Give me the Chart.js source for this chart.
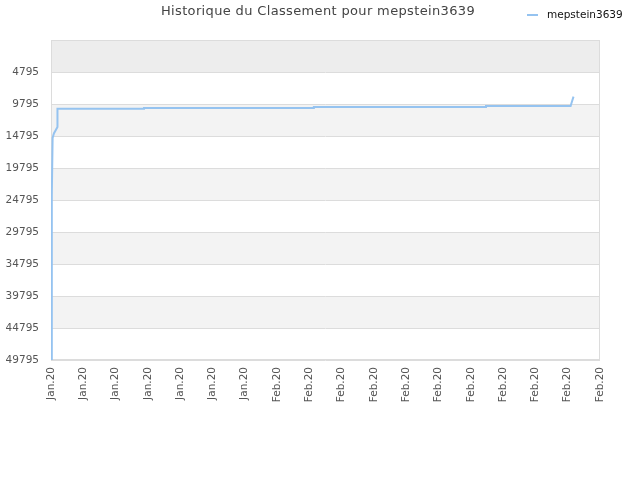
<!DOCTYPE html>
<html>
<head>
<meta charset="utf-8">
<script src="https://cdn.jsdelivr.net/npm/chart.js@4"></script>
<style>
  html, body { margin: 0; padding: 0; background: #fff; }
  #wrap { width: 640px; height: 480px; }
</style>
</head>
<body>
<div id="wrap"><canvas id="rank"></canvas></div>
<script>
// x positions are in tick units (0 = first label), y = rank
const xLabels = ['Jan.20', 'Jan.20', 'Jan.20', 'Jan.20', 'Jan.20', 'Jan.20', 'Jan.20',
  'Feb.20', 'Feb.20', 'Feb.20', 'Feb.20', 'Feb.20', 'Feb.20', 'Feb.20', 'Feb.20', 'Feb.20', 'Feb.20', 'Feb.20']
const yTicks = [4795, 9795, 14795, 19795, 24795, 29795, 34795, 39795, 44795, 49795]
const rankX = [0, 0.02, 0.03, 0.05, 0.09, 0.2, 0.2, 2.88, 2.88, 8.14, 8.14, 13.47, 13.47, 16.09, 16.13, 16.18]
const rankY = [49795, 41200, 24000, 15100, 14400, 13400, 10530, 10530, 10420, 10420, 10260, 10260, 10100, 10100, 9440, 8650]
const playerName = 'mepstein3639'
const titleText = 'Historique du Classement pour ' + playerName
const lineColor = '#95c3f0'

const FONT = '"DejaVu Sans", Verdana, sans-serif'

// alternating bands + frame behind the data, title and legend on top
const decor = {
  id: 'decor',
  beforeDatasetsDraw(chart) {
    const {ctx, chartArea: a, scales: {y}} = chart
    ctx.save()
    const edges = [y.min].concat(yTicks)
    for (let i = 0; i < edges.length - 1; i++) {
      const y0 = y.getPixelForValue(edges[i]), y1 = y.getPixelForValue(edges[i + 1])
      if (i === 0) ctx.fillStyle = '#ededed'
      else if (i % 2 === 0) ctx.fillStyle = '#f3f3f3'
      else continue
      ctx.fillRect(a.left, y0, a.right - a.left, y1 - y0)
    }
    ctx.strokeStyle = '#dcdcdc'
    ctx.lineWidth = 1
    yTicks.forEach(v => {
      const py = Math.round(y.getPixelForValue(v)) + 0.5
      ctx.beginPath(); ctx.moveTo(a.left, py); ctx.lineTo(a.right, py); ctx.stroke()
    })
    ctx.strokeRect(a.left + 0.5, a.top + 0.5, a.right - a.left - 1, a.bottom - a.top - 1)
    ctx.restore()
  },
  afterDraw(chart) {
    const {ctx} = chart
    ctx.save()
    ctx.fillStyle = '#444'
    ctx.font = '13px ' + FONT
    ctx.textAlign = 'center'
    ctx.textBaseline = 'middle'
    if ('letterSpacing' in ctx) ctx.letterSpacing = '0.35px'
    ctx.fillText(titleText, 318, 12)
    if ('letterSpacing' in ctx) ctx.letterSpacing = '0px'
    ctx.fillStyle = lineColor
    ctx.fillRect(527, 14, 11, 2)
    ctx.fillStyle = '#111'
    ctx.font = '10.5px ' + FONT
    ctx.textAlign = 'left'
    ctx.fillText(playerName, 547, 15)
    ctx.restore()
  }
}

new Chart(document.getElementById('rank'), {
  type: 'line',
  data: {
    datasets: [{
      label: playerName,
      data: rankX.map((x, i) => ({x: x, y: rankY[i]})),
      borderColor: lineColor,
      backgroundColor: lineColor,
      borderWidth: 2,
      pointRadius: 0,
      tension: 0,
      fill: false
    }]
  },
  options: {
    responsive: true,
    maintainAspectRatio: false,
    animation: false,
    events: [],
    layout: {padding: {top: 40, right: 40, bottom: 0, left: 0}},
    plugins: {
      legend: {display: false},
      title: {display: false},
      tooltip: {enabled: false}
    },
    scales: {
      x: {
        type: 'linear',
        min: 0,
        max: xLabels.length - 1,
        grid: {display: false, drawTicks: false},
        border: {display: false},
        afterFit: s => { s.height = 120 },
        afterBuildTicks: s => { s.ticks = xLabels.map((_, i) => ({value: i})) },
        ticks: {
          autoSkip: false,
          minRotation: 90,
          maxRotation: 90,
          padding: 7,
          color: '#555',
          font: {family: FONT, size: 10.5},
          callback: v => xLabels[v]
        }
      },
      y: {
        reverse: true,
        min: -205,
        max: 49795,
        grid: {display: false, drawTicks: false},
        border: {display: false},
        afterFit: s => { s.width = 51 },
        afterBuildTicks: s => { s.ticks = yTicks.map(v => ({value: v})) },
        ticks: {
          padding: 12,
          color: '#555',
          font: {family: FONT, size: 10.5},
          callback: v => String(v)
        }
      }
    }
  },
  plugins: [decor]
})
</script>
</body>
</html>
